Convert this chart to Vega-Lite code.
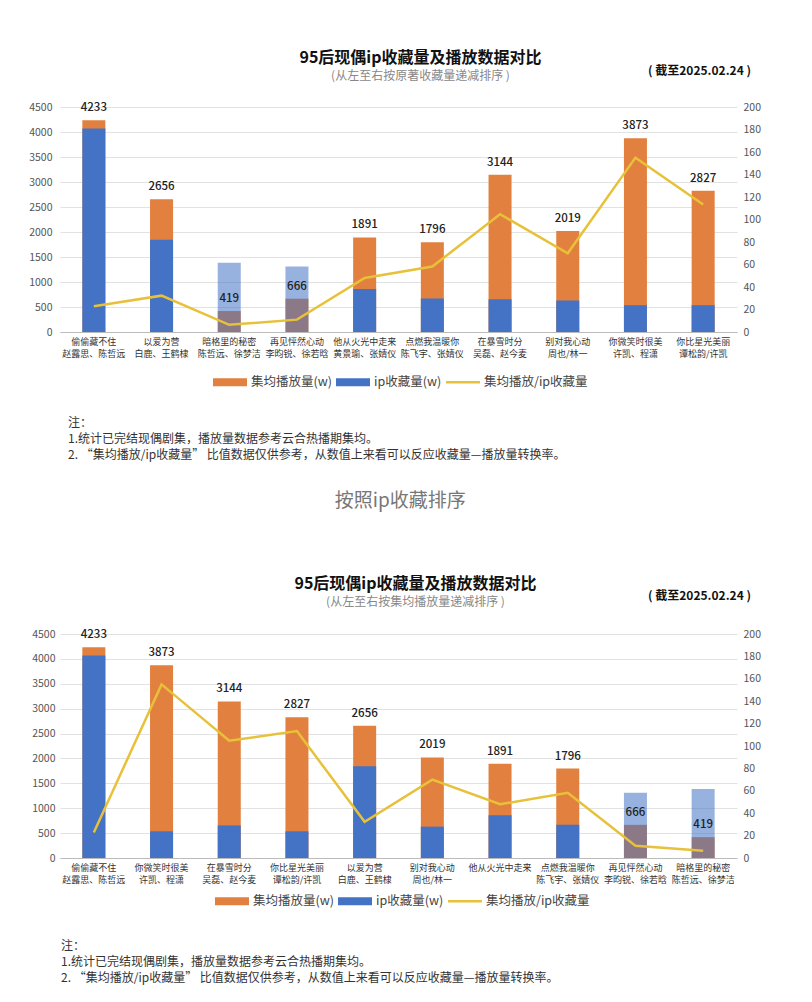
{
  "$schema": "https://vega.github.io/schema/vega-lite/v6.json",
  "background": "white",
  "padding": {"left": 22, "top": 50, "right": 5, "bottom": 5},
  "config": {
    "font": "Noto Sans CJK SC",
    "view": {"stroke": null},
    "axis": {"labelFont": "Noto Sans CJK SC"},
    "legend": {"labelFont": "Noto Sans CJK SC"}
  },
  "datasets": {
    "p1": [
      {"name": "偷偷藏不住\n赵露思、陈哲远", "play": 4233, "collect": 4070, "ratio": 22.8},
      {"name": "以爱为营\n白鹿、王鹤棣", "play": 2656, "collect": 1843, "ratio": 32.3},
      {"name": "暗格里的秘密\n陈哲远、徐梦洁", "play": 419, "collect": 1385, "ratio": 6.4},
      {"name": "再见怦然心动\n李昀锐、徐若晗", "play": 666, "collect": 1312, "ratio": 11},
      {"name": "他从火光中走来\n黄景瑜、张婧仪", "play": 1891, "collect": 860, "ratio": 48},
      {"name": "点燃我温暖你\n陈飞宇、张婧仪", "play": 1796, "collect": 670, "ratio": 58.2},
      {"name": "在暴雪时分\n吴磊、赵今麦", "play": 3144, "collect": 655, "ratio": 104.7},
      {"name": "别对我心动\n周也/林一", "play": 2019, "collect": 630, "ratio": 70},
      {"name": "你微笑时很美\n许凯、程潇", "play": 3873, "collect": 536, "ratio": 155},
      {"name": "你比星光美丽\n谭松韵/许凯", "play": 2827, "collect": 536, "ratio": 113.3}
    ],
    "p2": [
      {"name": "偷偷藏不住\n赵露思、陈哲远", "play": 4233, "collect": 4070, "ratio": 22.8},
      {"name": "你微笑时很美\n许凯、程潇", "play": 3873, "collect": 536, "ratio": 155},
      {"name": "在暴雪时分\n吴磊、赵今麦", "play": 3144, "collect": 655, "ratio": 104.7},
      {"name": "你比星光美丽\n谭松韵/许凯", "play": 2827, "collect": 536, "ratio": 113.3},
      {"name": "以爱为营\n白鹿、王鹤棣", "play": 2656, "collect": 1843, "ratio": 32.3},
      {"name": "别对我心动\n周也/林一", "play": 2019, "collect": 630, "ratio": 70},
      {"name": "他从火光中走来", "play": 1891, "collect": 860, "ratio": 48},
      {"name": "点燃我温暖你\n陈飞宇、张婧仪", "play": 1796, "collect": 670, "ratio": 58.2},
      {"name": "再见怦然心动\n李昀锐、徐若晗", "play": 666, "collect": 1312, "ratio": 11},
      {"name": "暗格里的秘密\n陈哲远、徐梦洁", "play": 419, "collect": 1385, "ratio": 6.4}
    ]
  },
  "resolve": {"scale": {"color": "independent"}, "legend": {"color": "independent"}},
  "spacing": 31,
  "vconcat": [
    {
      "title": {
        "text": ["注：", "1.统计已完结现偶剧集，播放量数据参考云合热播期集均。", "2. “集均播放/ip收藏量” 比值数据仅供参考，从数值上来看可以反应收藏量—播放量转换率。"],
        "orient": "bottom", "anchor": "start", "fontSize": 12, "fontWeight": "normal", "color": "#333", "lineHeight": 16, "offset": 29, "dx": 46, "font": "Noto Sans CJK SC"
      },
      "resolve": {"scale": {"color": "independent"}, "legend": {"color": "independent"}},
      "vconcat": [
        {
          "width": 677, "height": 225,
          "data": {"name": "p1"},
          "title": {
            "text": "95后现偶ip收藏量及播放数据对比", "subtitle": "(从左至右按原著收藏量递减排序 )",
            "fontSize": 16, "fontWeight": "bold", "color": "#111", "subtitleFontSize": 12, "subtitleColor": "#888", "subtitlePadding": 5,
            "anchor": "middle", "dx": 22, "offset": -18, "font": "Noto Sans CJK SC", "subtitleFont": "Noto Sans CJK SC"
          },
          "encoding": {
            "x": {"field": "name", "type": "nominal", "sort": null,
              "scale": {"paddingInner": 0.66, "paddingOuter": 0.33},
              "axis": {"title": null, "labelAngle": 0, "labelExpr": "split(datum.value, '\\n')", "labelFontSize": 9, "labelColor": "#333", "labelLineHeight": 12, "labelPadding": 5, "ticks": false, "domainColor": "#bbb", "labelLimit": 200}}
          },
          "layer": [
            {
              "layer": [
                {
                  "mark": {"type": "bar"},
                  "encoding": {
                    "y": {"field": "play", "type": "quantitative", "scale": {"domain": [0, 4500], "nice": false},
                      "axis": {"title": null, "values": [0, 500, 1000, 1500, 2000, 2500, 3000, 3500, 4000, 4500], "format": "d", "labelOverlap": false, "domain": false, "ticks": false, "gridColor": "#e2e2e2", "labelFontSize": 10.5, "labelColor": "#555", "labelPadding": 8, "minExtent": 38}},
                    "color": {"datum": "集均播放量(w)", "type": "nominal",
                      "scale": {"domain": ["集均播放量(w)", "ip收藏量(w)", "集均播放/ip收藏量"], "range": ["#E2813F", "#4472C4", "#E8C13A"]},
                      "legend": {"title": null, "orient": "none", "legendX": 153, "legendY": 258, "direction": "horizontal", "labelFontSize": 12.5, "labelColor": "#444", "symbolSize": 1156, "labelOffset": 4, "columnPadding": 4,
                        "encode": {"symbols": {"update": {
                          "shape": {"signal": "datum.value === '集均播放/ip收藏量' ? 'M-1,-0.07H1V0.07H-1Z' : 'M-1,-0.235H1V0.235H-1Z'"},
                          "fill": {"signal": "datum.value === 'ip收藏量(w)' ? '#4472C4' : datum.value === '集均播放量(w)' ? '#E2813F' : '#E8C13A'"},
                          "strokeWidth": {"value": 0}, "opacity": {"value": 1}}}}}}
                  }
                },
                {
                  "mark": {"type": "bar"},
                  "encoding": {
                    "y": {"field": "collect", "type": "quantitative",
                      "axis": {"title": null, "values": [0, 500, 1000, 1500, 2000, 2500, 3000, 3500, 4000, 4500], "format": "d", "labelOverlap": false, "domain": false, "ticks": false, "gridColor": "#e2e2e2", "labelFontSize": 10.5, "labelColor": "#555", "labelPadding": 8, "minExtent": 38}},
                    "color": {"datum": "ip收藏量(w)", "type": "nominal"},
                    "opacity": {"condition": {"test": "datum.collect > datum.play", "value": 0.55}, "value": 1}
                  }
                },
                {
                  "mark": {"type": "text", "baseline": "bottom", "dy": -7, "fontSize": 11.5, "fontWeight": 500, "color": "#222"},
                  "encoding": {
                    "y": {"field": "play", "type": "quantitative",
                      "axis": {"title": null, "values": [0, 500, 1000, 1500, 2000, 2500, 3000, 3500, 4000, 4500], "format": "d", "labelOverlap": false, "domain": false, "ticks": false, "gridColor": "#e2e2e2", "labelFontSize": 10.5, "labelColor": "#555", "labelPadding": 8, "minExtent": 38}},
                    "text": {"field": "play", "type": "quantitative", "format": "d"}
                  }
                }
              ]
            },
            {
              "mark": {"type": "line", "strokeWidth": 2.5},
              "encoding": {
                "y": {"field": "ratio", "type": "quantitative", "scale": {"domain": [0, 200], "nice": false},
                  "axis": {"orient": "right", "values": [0, 20, 40, 60, 80, 100, 120, 140, 160, 180, 200], "labelOverlap": false, "grid": false, "domain": false, "ticks": false, "labelFontSize": 10.5, "labelColor": "#555", "labelPadding": 6,
                    "title": "( 截至2025.02.24 )", "titleAngle": 0, "titleX": -38, "titleY": -37, "titleAlign": "center", "titleBaseline": "middle", "titleFontSize": 12, "titleFontWeight": "bold", "titleColor": "#111"}},
                "color": {"datum": "集均播放/ip收藏量", "type": "nominal"}
              }
            }
          ],
          "resolve": {"scale": {"y": "independent"}}
        }
      ]
    },
    {
      "title": {"text": "按照ip收藏排序", "orient": "top", "anchor": "middle", "fontSize": 19, "fontWeight": "normal", "color": "#777", "offset": 65, "dx": 5, "font": "Noto Sans CJK SC"},
      "resolve": {"scale": {"color": "independent"}, "legend": {"color": "independent"}},
      "vconcat": [
        {
          "title": {
            "text": ["注：", "1.统计已完结现偶剧集，播放量数据参考云合热播期集均。", "2. “集均播放/ip收藏量” 比值数据仅供参考，从数值上来看可以反应收藏量—播放量转换率。"],
            "orient": "bottom", "anchor": "start", "fontSize": 12, "fontWeight": "normal", "color": "#333", "lineHeight": 16, "offset": 33, "dx": 31, "font": "Noto Sans CJK SC"
          },
          "resolve": {"scale": {"color": "independent"}, "legend": {"color": "independent"}},
          "vconcat": [
            {
              "width": 677, "height": 224,
              "data": {"name": "p2"},
              "title": {
                "text": "95后现偶ip收藏量及播放数据对比", "subtitle": "(从左至右按集均播放量递减排序 )",
                "fontSize": 16, "fontWeight": "bold", "color": "#111", "subtitleFontSize": 12, "subtitleColor": "#888", "subtitlePadding": 5,
                "anchor": "middle", "dx": 17, "offset": -19, "font": "Noto Sans CJK SC", "subtitleFont": "Noto Sans CJK SC"
              },
              "encoding": {
                "x": {"field": "name", "type": "nominal", "sort": null,
                  "scale": {"paddingInner": 0.66, "paddingOuter": 0.33},
                  "axis": {"title": null, "labelAngle": 0, "labelExpr": "split(datum.value, '\\n')", "labelFontSize": 9, "labelColor": "#333", "labelLineHeight": 12, "labelPadding": 5, "ticks": false, "domainColor": "#bbb", "labelLimit": 200}}
              },
              "layer": [
                {
                  "layer": [
                    {
                      "mark": {"type": "bar"},
                      "encoding": {
                        "y": {"field": "play", "type": "quantitative", "scale": {"domain": [0, 4500], "nice": false},
                          "axis": {"title": null, "values": [0, 500, 1000, 1500, 2000, 2500, 3000, 3500, 4000, 4500], "format": "d", "labelOverlap": false, "domain": false, "ticks": false, "gridColor": "#e2e2e2", "labelFontSize": 10.5, "labelColor": "#555", "labelPadding": 5, "minExtent": 30}},
                        "color": {"datum": "集均播放量(w)", "type": "nominal",
                          "scale": {"domain": ["集均播放量(w)", "ip收藏量(w)", "集均播放/ip收藏量"], "range": ["#E2813F", "#4472C4", "#E8C13A"]},
                          "legend": {"title": null, "orient": "none", "legendX": 155, "legendY": 250, "direction": "horizontal", "labelFontSize": 12.5, "labelColor": "#444", "symbolSize": 1156, "labelOffset": 4, "columnPadding": 4,
                            "encode": {"symbols": {"update": {
                              "shape": {"signal": "datum.value === '集均播放/ip收藏量' ? 'M-1,-0.07H1V0.07H-1Z' : 'M-1,-0.235H1V0.235H-1Z'"},
                              "fill": {"signal": "datum.value === 'ip收藏量(w)' ? '#4472C4' : datum.value === '集均播放量(w)' ? '#E2813F' : '#E8C13A'"},
                              "strokeWidth": {"value": 0}, "opacity": {"value": 1}}}}}}
                      }
                    },
                    {
                      "mark": {"type": "bar"},
                      "encoding": {
                        "y": {"field": "collect", "type": "quantitative",
                          "axis": {"title": null, "values": [0, 500, 1000, 1500, 2000, 2500, 3000, 3500, 4000, 4500], "format": "d", "labelOverlap": false, "domain": false, "ticks": false, "gridColor": "#e2e2e2", "labelFontSize": 10.5, "labelColor": "#555", "labelPadding": 5, "minExtent": 30}},
                        "color": {"datum": "ip收藏量(w)", "type": "nominal"},
                        "opacity": {"condition": {"test": "datum.collect > datum.play", "value": 0.55}, "value": 1}
                      }
                    },
                    {
                      "mark": {"type": "text", "baseline": "bottom", "dy": -7, "fontSize": 11.5, "fontWeight": 500, "color": "#222"},
                      "encoding": {
                        "y": {"field": "play", "type": "quantitative",
                          "axis": {"title": null, "values": [0, 500, 1000, 1500, 2000, 2500, 3000, 3500, 4000, 4500], "format": "d", "labelOverlap": false, "domain": false, "ticks": false, "gridColor": "#e2e2e2", "labelFontSize": 10.5, "labelColor": "#555", "labelPadding": 5, "minExtent": 30}},
                        "text": {"field": "play", "type": "quantitative", "format": "d"}
                      }
                    }
                  ]
                },
                {
                  "mark": {"type": "line", "strokeWidth": 2.5},
                  "encoding": {
                    "y": {"field": "ratio", "type": "quantitative", "scale": {"domain": [0, 200], "nice": false},
                      "axis": {"orient": "right", "values": [0, 20, 40, 60, 80, 100, 120, 140, 160, 180, 200], "labelOverlap": false, "grid": false, "domain": false, "ticks": false, "labelFontSize": 10.5, "labelColor": "#555", "labelPadding": 6,
                        "title": "( 截至2025.02.24 )", "titleAngle": 0, "titleX": -38, "titleY": -39, "titleAlign": "center", "titleBaseline": "middle", "titleFontSize": 12, "titleFontWeight": "bold", "titleColor": "#111"}},
                    "color": {"datum": "集均播放/ip收藏量", "type": "nominal"}
                  }
                }
              ],
              "resolve": {"scale": {"y": "independent"}}
            }
          ]
        }
      ]
    }
  ]
}
